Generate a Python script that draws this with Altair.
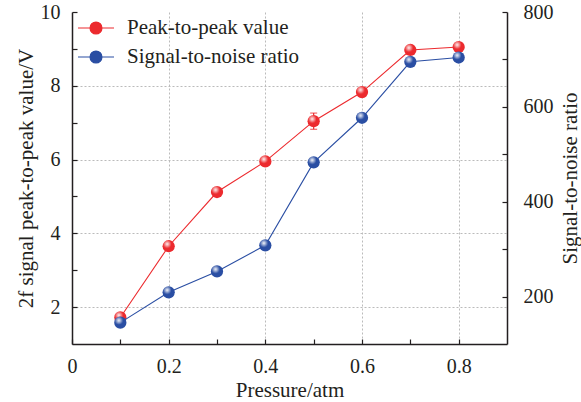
import altair as alt
import pandas as pd

pressure = [0.1, 0.2, 0.3, 0.4, 0.5, 0.6, 0.7, 0.8]
peak_to_peak = [1.72, 3.65, 5.12, 5.95, 7.04, 7.83, 8.97, 9.05]
peak_err = [0.05, 0.06, 0.06, 0.06, 0.22, 0.06, 0.06, 0.10]
snr = [145, 209, 253, 308, 483, 577, 695, 704]
series_names = ["Peak-to-peak value", "Signal-to-noise ratio"]
series_colors = ["#ec2a2e", "#2a4ea3"]

FONT = "Liberation Serif"
TXT = "#231f20"
RED, BLUE = series_colors

df_red = pd.DataFrame({
    "pressure": pressure,
    "value": peak_to_peak,
    "lo": [v - e for v, e in zip(peak_to_peak, peak_err)],
    "hi": [v + e for v, e in zip(peak_to_peak, peak_err)],
    "series": series_names[0],
})
df_blue = pd.DataFrame({"pressure": pressure, "value": snr, "series": series_names[1]})

common_axis = dict(
    labelFont=FONT, labelFontSize=20, labelColor=TXT, labelFlush=False,
    titleFont=FONT, titleFontSize=21, titleFontWeight="normal", titleColor=TXT,
    domainColor=TXT, domainWidth=1.5, tickColor=TXT, tickWidth=1.2,
    tickSize={"expr": "-5"},
)

x_vals = [0, 0.1, 0.2, 0.3, 0.4, 0.5, 0.6, 0.7, 0.8]
x_enc = alt.X(
    "pressure:Q",
    scale=alt.Scale(domain=[0, 0.9], nice=False),
    axis=alt.Axis(
        title="Pressure/atm",
        values=x_vals,
        labelExpr="round(datum.value*10) % 2 == 0 ? format(datum.value, '.1~f') : ''",
        labelPadding=17,
        titlePadding=3,
        grid=True,
        gridDash=[2, 2],
        gridColor="#bbbbbb",
        gridOpacity={"condition": {"test": "round(datum.value*10) % 2 == 0 && datum.value > 0", "value": 1}, "value": 0},
        **common_axis,
    ),
)

highlight = alt.RadialGradient(
    gradient="radial",
    x1=0.38, y1=0.32, r1=0.0,
    x2=0.38, y2=0.32, r2=0.35,
    stops=[
        alt.GradientStop(offset=0.0, color="rgba(255,255,255,0.95)"),
        alt.GradientStop(offset=1.0, color="rgba(255,255,255,0)"),
    ],
)

legend = alt.Legend(
    title=None,
    orient="none",
    legendX=5,
    legendY=-3,
    symbolType="M-1,0L1,0M-0.33,0A0.33,0.33,0,1,1,0.33,0A0.33,0.33,0,1,1,-0.33,0Z",
    symbolSize=1300,
    symbolStrokeWidth=1.2,
    labelFont=FONT,
    labelFontSize=21,
    labelColor=TXT,
    labelLimit=400,
    labelOffset=12,
    rowPadding=-8,
    padding=0,
)
cscale = alt.Scale(domain=series_names, range=series_colors)
stroke_enc = alt.Stroke("series:N", scale=cscale, legend=legend)
fill_enc = alt.Fill("series:N", scale=cscale, legend=legend)

y_left = alt.Y(
    "value:Q",
    scale=alt.Scale(domain=[1, 10], nice=False),
    axis=alt.Axis(
        title="2f signal peak-to-peak value/V",
        orient="left",
        values=[2, 3, 4, 5, 6, 7, 8, 9, 10],
        labelExpr="datum.value % 2 == 0 ? datum.label : ''",
        labelPadding=17,
        titlePadding=4,
        grid=True,
        gridDash=[2, 2],
        gridColor="#bbbbbb",
        gridOpacity={"condition": {"test": "datum.value % 2 == 0 && datum.value < 10", "value": 1}, "value": 0},
        **common_axis,
    ),
)

y_right = alt.Y(
    "value:Q",
    scale=alt.Scale(domain=[100, 800], nice=False),
    axis=alt.Axis(
        title="Signal-to-noise ratio",
        orient="right",
        titleAngle=270,
        values=[200, 300, 400, 500, 600, 700, 800],
        labelExpr="datum.value % 200 == 0 ? datum.label : ''",
        labelPadding=21,
        titlePadding=27,
        grid=False,
        **common_axis,
    ),
)

red_base = alt.Chart(df_red)
red_line = red_base.mark_line(strokeWidth=1.1).encode(x=x_enc, y=y_left, stroke=stroke_enc)
red_rule = red_base.mark_rule(color=RED, strokeWidth=1.2).encode(x="pressure:Q", y="lo:Q", y2="hi:Q")
red_cap_lo = red_base.mark_tick(orient="horizontal", color=RED, size=7, thickness=1.2).encode(x="pressure:Q", y="lo:Q")
red_cap_hi = red_base.mark_tick(orient="horizontal", color=RED, size=7, thickness=1.2).encode(x="pressure:Q", y="hi:Q")
red_pts = red_base.mark_point(filled=True, size=150, opacity=1, strokeWidth=0).encode(x="pressure:Q", y="value:Q", fill=fill_enc)
red_hl = red_base.mark_point(filled=True, fill=highlight, size=150, opacity=1, strokeWidth=0).encode(x="pressure:Q", y="value:Q")
left = alt.layer(red_line, red_rule, red_cap_lo, red_cap_hi, red_pts, red_hl)

blue_base = alt.Chart(df_blue)
blue_line = blue_base.mark_line(strokeWidth=1.1).encode(x=x_enc, y=y_right, stroke=stroke_enc)
blue_pts = blue_base.mark_point(filled=True, size=150, opacity=1, strokeWidth=0).encode(x="pressure:Q", y="value:Q", fill=fill_enc)
blue_hl = blue_base.mark_point(filled=True, fill=highlight, size=150, opacity=1, strokeWidth=0).encode(x="pressure:Q", y="value:Q")
right = alt.layer(blue_line, blue_pts, blue_hl)

chart = alt.layer(left, right).resolve_scale(y="independent").properties(
    width=435,
    height=332,
    autosize=alt.AutoSizeParams(type="none"),
    padding={"left": 72, "top": 12, "right": 74, "bottom": 58},
).configure(font=FONT).configure_view(stroke=None)

chart.save("out.html", embed_options={"renderer": "svg", "actions": False})
